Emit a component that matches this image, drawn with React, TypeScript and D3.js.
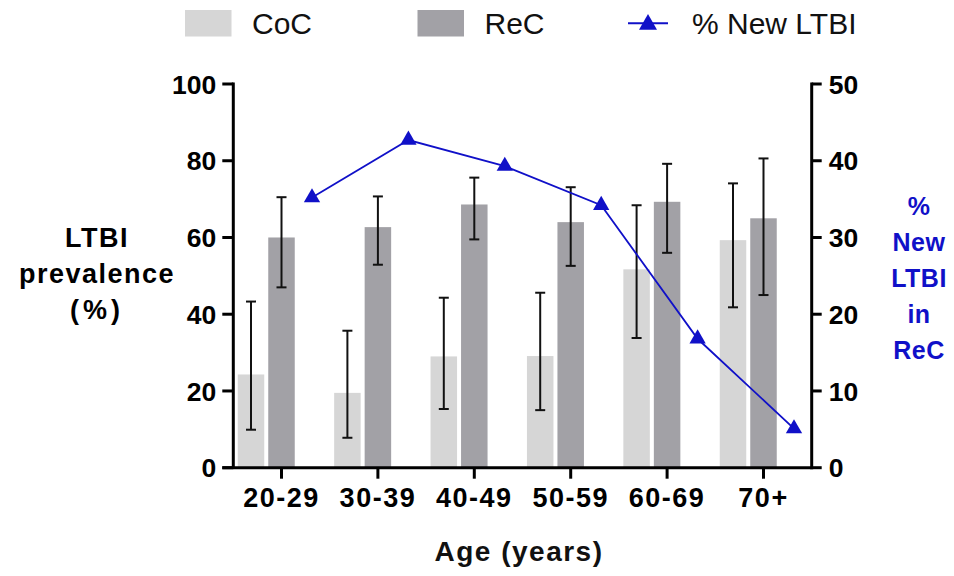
import * as d3 from "d3";

const ageGroups = ["20-29", "30-39", "40-49", "50-59", "60-69", "70+"];
const cocPrevalence = [24.3, 19.5, 29.0, 29.1, 51.7, 59.3];
const cocLower = [9.9, 7.8, 15.3, 15.0, 33.8, 41.8];
const cocUpper = [43.3, 35.7, 44.3, 45.6, 68.4, 74.1];
const recPrevalence = [60.0, 62.7, 68.6, 64.0, 69.3, 65.0];
const recLower = [47.0, 52.9, 59.5, 52.6, 56.0, 45.0];
const recUpper = [70.5, 70.7, 75.6, 73.1, 79.2, 80.6];
const newLtbi = [35.2, 42.7, 39.3, 34.2, 16.8, 5.1];
const leftTicks = [0, 20, 40, 60, 80, 100];
const rightTicks = [0, 10, 20, 30, 40, 50];
const seriesNames = ["CoC", "ReC", "% New LTBI"];
const leftTitle = ["LTBI", "prevalence", "(%)"];
const rightTitle = ["%", "New", "LTBI", "in", "ReC"];

const width = 954;
const height = 576;
const plotLeft = 233.3;
const plotRight = 811.7;
const plotTop = 84;
const plotBottom = 467.7;

const cocFill = "#d6d6d6";
const recFill = "#a2a1a6";
const blue = "#1010c8";
const font = "'Liberation Sans', Arial, sans-serif";

export default function App() {
  const x = d3.scaleBand<string>().domain(ageGroups).range([plotLeft, plotRight]).padding(0);
  const slot = d3
    .scalePoint<string>()
    .domain(seriesNames)
    .range([-30.5, 30.5]);
  const yLeft = d3.scaleLinear().domain([0, 100]).range([plotBottom, plotTop]);
  const yRight = d3.scaleLinear().domain([0, 50]).range([plotBottom, plotTop]);
  const barW = 26.5;
  const capW = 10;

  const center = (g: string) => (x(g) ?? 0) + x.bandwidth() / 2;

  const line = d3
    .line<number>()
    .x((_, i) => center(ageGroups[i]) + (slot("% New LTBI") ?? 0))
    .y((d) => yRight(d));
  const tri = d3.symbol(d3.symbolTriangle, 115)() ?? "";
  const legendTri = d3.symbol(d3.symbolTriangle, 140)() ?? "";

  const bars = [
    { name: "CoC", values: cocPrevalence, lo: cocLower, hi: cocUpper, fill: cocFill },
    { name: "ReC", values: recPrevalence, lo: recLower, hi: recUpper, fill: recFill }
  ];

  const legendX = [185, 417.5];

  return (
    <svg
      width={width}
      height={height}
      style={{ position: "absolute", left: 0, top: 0, background: "#fff" }}
      fontFamily={font}
    >
      {/* legend */}
      {bars.map((b, i) => (
        <g key={b.name}>
          <rect x={legendX[i]} y={10} width={46.5} height={26.5} fill={b.fill} />
          <text x={legendX[i] + 67} y={33.5} fontSize={30} fill="#111">
            {b.name}
          </text>
        </g>
      ))}
      <line x1={628} x2={668} y1={23.3} y2={23.3} stroke={blue} strokeWidth={2} />
      <path d={legendTri} transform="translate(648,24.5)" fill={blue} />
      <text x={692} y={33.5} fontSize={30} fill="#111">
        {seriesNames[2]}
      </text>

      {/* bars */}
      {bars.map((b) =>
        b.values.map((v, i) => {
          const cx = center(ageGroups[i]) + (slot(b.name) ?? 0);
          return (
            <rect
              key={`${b.name}-${i}`}
              x={cx - barW / 2}
              y={yLeft(v)}
              width={barW}
              height={yLeft(0) - yLeft(v)}
              fill={b.fill}
            />
          );
        })
      )}

      {/* error bars */}
      {bars.map((b) =>
        b.values.map((_, i) => {
          const cx = center(ageGroups[i]) + (slot(b.name) ?? 0);
          const y1 = yLeft(b.hi[i]);
          const y2 = yLeft(b.lo[i]);
          return (
            <g key={`err-${b.name}-${i}`} stroke="#111" strokeWidth={2}>
              <line x1={cx} x2={cx} y1={y1} y2={y2} />
              <line x1={cx - capW / 2} x2={cx + capW / 2} y1={y1} y2={y1} />
              <line x1={cx - capW / 2} x2={cx + capW / 2} y1={y2} y2={y2} />
            </g>
          );
        })
      )}

      {/* line */}
      <path d={line(newLtbi) ?? ""} fill="none" stroke={blue} strokeWidth={1.8} />
      {newLtbi.map((v, i) => (
        <path
          key={`tri-${i}`}
          d={tri}
          fill={blue}
          transform={`translate(${center(ageGroups[i]) + (slot("% New LTBI") ?? 0)},${yRight(v)})`}
        />
      ))}

      {/* left axis */}
      <g stroke="#000" strokeWidth={3}>
        <line x1={plotLeft} x2={plotLeft} y1={plotTop - 1.5} y2={plotBottom} />
        {leftTicks.map((t) => (
          <line key={t} x1={plotLeft - 11} x2={plotLeft} y1={yLeft(t)} y2={yLeft(t)} />
        ))}
      </g>
      {leftTicks.map((t) => (
        <text
          key={`lt-${t}`}
          x={plotLeft - 17}
          y={yLeft(t)}
          dy="0.36em"
          textAnchor="end"
          fontSize={26.5}
          fontWeight="bold"
        >
          {t}
        </text>
      ))}

      {/* right axis */}
      <g stroke="#000" strokeWidth={3}>
        <line x1={plotRight} x2={plotRight} y1={plotTop - 1.5} y2={plotBottom + 1.5} />
        {rightTicks.map((t) => (
          <line key={t} x1={plotRight} x2={plotRight + 10} y1={yRight(t)} y2={yRight(t)} />
        ))}
      </g>
      {rightTicks.map((t) => (
        <text
          key={`rt-${t}`}
          x={plotRight + 17}
          y={yRight(t)}
          dy="0.36em"
          textAnchor="start"
          fontSize={26.5}
          fontWeight="bold"
        >
          {t}
        </text>
      ))}

      {/* x axis */}
      <g stroke="#000" strokeWidth={3}>
        <line x1={plotLeft - 11} x2={plotRight} y1={plotBottom} y2={plotBottom} />
        {ageGroups.map((g) => (
          <line key={g} x1={center(g)} x2={center(g)} y1={plotBottom} y2={plotBottom + 11} />
        ))}
      </g>
      {ageGroups.map((g) => (
        <text
          key={`xt-${g}`}
          x={center(g)}
          y={507}
          textAnchor="middle"
          fontSize={27}
          fontWeight="bold"
          letterSpacing={1.5}
        >
          {g}
        </text>
      ))}

      {/* axis titles */}
      <text x={519} y={561} textAnchor="middle" fontSize={28} fontWeight="bold" letterSpacing={1.5} fill="#111">
        Age (years)
      </text>
      {leftTitle.map((s, i) => (
        <text
          key={s}
          x={97}
          y={247 + i * 36}
          textAnchor="middle"
          fontSize={27}
          fontWeight="bold"
          letterSpacing={i === 2 ? 4 : 1.5}
        >
          {s}
        </text>
      ))}
      {rightTitle.map((s, i) => (
        <text
          key={`r-${s}`}
          x={919}
          y={215 + i * 36}
          textAnchor="middle"
          fontSize={25}
          fontWeight="bold"
          letterSpacing={0.5}
          fill={blue}
        >
          {s}
        </text>
      ))}
    </svg>
  );
}
